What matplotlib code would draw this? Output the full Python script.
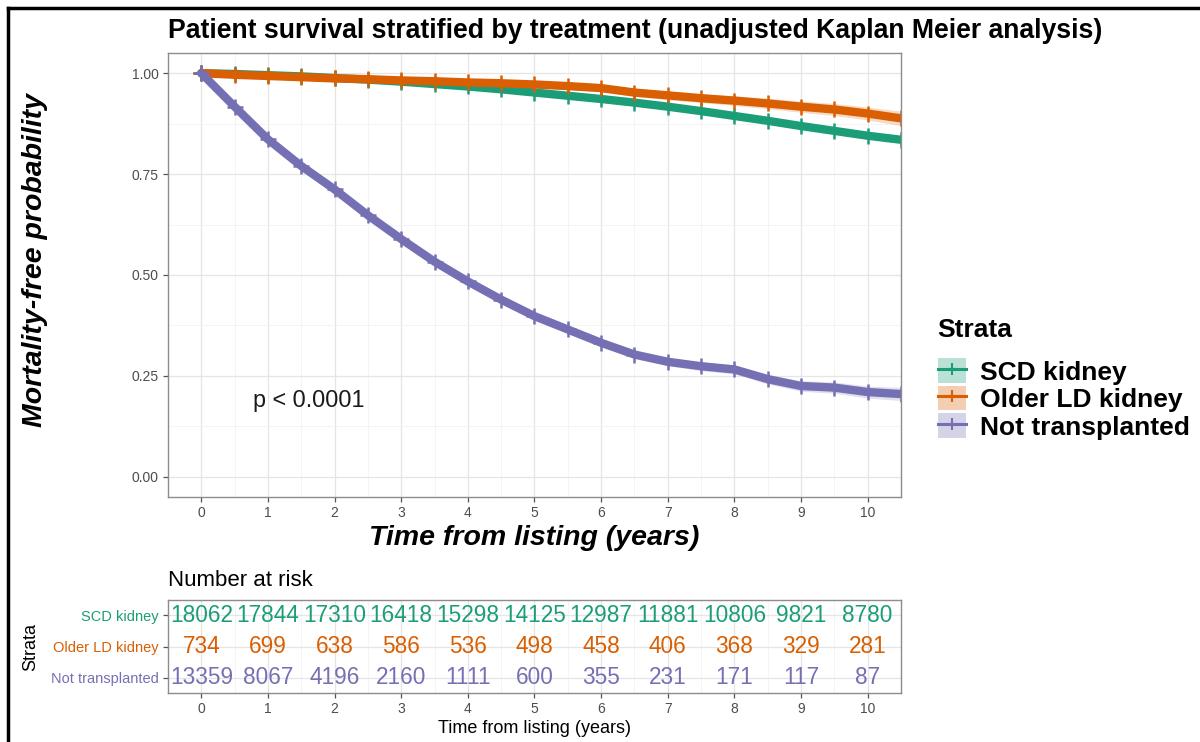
import numpy as np
import matplotlib
matplotlib.use("Agg")
import matplotlib.pyplot as plt
from matplotlib.lines import Line2D
from matplotlib.patches import Patch
from matplotlib.ticker import MultipleLocator

plt.rcParams['font.family'] = ['Liberation Sans', 'DejaVu Sans']

# Survival estimates read at half-year steps
years = [0, 0.5, 1, 1.5, 2, 2.5, 3, 3.5, 4, 4.5, 5, 5.5, 6, 6.5, 7, 7.5, 8, 8.5, 9, 9.5, 10, 10.5]
surv_scd = [1.0, 0.998, 0.995, 0.992, 0.988, 0.984, 0.979, 0.973, 0.967, 0.960, 0.952, 0.944,
            0.936, 0.927, 0.917, 0.906, 0.894, 0.882, 0.869, 0.857, 0.845, 0.835]
surv_old = [1.0, 0.996, 0.993, 0.990, 0.987, 0.985, 0.982, 0.980, 0.977, 0.975, 0.972, 0.968,
            0.963, 0.952, 0.945, 0.938, 0.932, 0.925, 0.917, 0.910, 0.900, 0.888]
surv_not = [1.0, 0.917, 0.836, 0.770, 0.712, 0.648, 0.589, 0.533, 0.484, 0.439, 0.398, 0.365,
            0.332, 0.303, 0.285, 0.274, 0.266, 0.242, 0.225, 0.221, 0.210, 0.205]
# half width of the confidence band
ci_scd = [0, 0.001, 0.001, 0.001, 0.002, 0.002, 0.002, 0.002, 0.003, 0.003, 0.003, 0.003,
          0.003, 0.003, 0.004, 0.004, 0.004, 0.004, 0.004, 0.005, 0.005, 0.005]
ci_old = [0, 0.002, 0.003, 0.004, 0.005, 0.005, 0.006, 0.006, 0.007, 0.007, 0.008, 0.008,
          0.009, 0.010, 0.011, 0.011, 0.012, 0.013, 0.014, 0.015, 0.016, 0.018]
ci_not = [0, 0.003, 0.004, 0.005, 0.005, 0.006, 0.006, 0.007, 0.007, 0.008, 0.008, 0.009,
          0.009, 0.010, 0.010, 0.011, 0.011, 0.012, 0.013, 0.014, 0.015, 0.016]

strata = ['SCD kidney', 'Older LD kidney', 'Not transplanted']
colors = ['#1B9E77', '#D95F02', '#7570B3']

risk_years = [0, 1, 2, 3, 4, 5, 6, 7, 8, 9, 10]
risk_scd = [18062, 17844, 17310, 16418, 15298, 14125, 12987, 11881, 10806, 9821, 8780]
risk_old = [734, 699, 638, 586, 536, 498, 458, 406, 368, 329, 281]
risk_not = [13359, 8067, 4196, 2160, 1111, 600, 355, 231, 171, 117, 87]

grey = '#4D4D4D'

fig = plt.figure(figsize=(12, 7.42), dpi=100)
ax = fig.add_axes([0.14, 0.3302, 0.6108, 0.5984])
ax2 = fig.add_axes([0.14, 0.066, 0.6108, 0.1254])


def style_panel(a):
    a.set_xlim(-0.5, 10.5)
    a.xaxis.set_major_locator(MultipleLocator(1))
    a.xaxis.set_minor_locator(MultipleLocator(0.5))
    a.grid(which='major', color='#E5E5E5', lw=0.9)
    a.grid(which='minor', color='#F2F2F2', lw=0.6)
    a.set_axisbelow(True)
    for s in a.spines.values():
        s.set_color('#8C8C8C')
        s.set_linewidth(1.0)
    a.tick_params(which='major', length=3.5, width=0.9, color='#555555',
                  labelsize=10, labelcolor=grey, pad=3)
    a.tick_params(which='minor', length=0)


# survival curves
curves = [(surv_scd, ci_scd), (surv_old, ci_old), (surv_not, ci_not)]
for (s, ci), name, c in zip(curves, strata, colors):
    s = np.array(s)
    ci = np.array(ci)
    ax.fill_between(years, s - ci, s + ci, color=c, alpha=0.22, lw=0)
    ax.plot(years, s, color=c, lw=6, marker='+', ms=11, mew=1.8,
            solid_capstyle='round', label=name)

style_panel(ax)
ax.set_ylim(-0.05, 1.05)
ax.yaxis.set_major_locator(MultipleLocator(0.25))
ax.yaxis.set_minor_locator(MultipleLocator(0.125))
ax.yaxis.set_major_formatter(matplotlib.ticker.FormatStrFormatter('%.2f'))
ax.text(0.77, 0.19, 'p < 0.0001', fontsize=16.8, ha='left', va='center', color='#1a1a1a')

fig.text(0.14, 0.958, 'Patient survival stratified by treatment (unadjusted Kaplan Meier analysis)',
         fontsize=19.2, fontweight='bold', ha='left', va='center')
fig.text(0.029, 0.6496, 'Mortality-free probability', fontsize=20.5, fontweight='bold',
         fontstyle='italic', rotation=90, ha='center', va='center')
fig.text(0.4454, 0.275, 'Time from listing (years)', fontsize=20.5, fontweight='bold',
         fontstyle='italic', ha='center', va='center')

# legend
fig.text(0.781, 0.5553, 'Strata', fontsize=19, fontweight='bold', ha='left', va='center')
handles = [(Patch(facecolor=c, alpha=0.3, lw=0),
            Line2D([], [], color=c, lw=2.2, marker='+', ms=9, mew=1.5)) for c in colors]
leg = fig.legend(handles, strata, loc='center left', bbox_to_anchor=(0.766, 0.4623),
                 frameon=False, fontsize=19, handlelength=1.06,
                 handleheight=1.05, labelspacing=0.05, handletextpad=0.53, borderpad=0.2)
for t in leg.get_texts():
    t.set_fontweight('bold')

# risk table
rows = [risk_scd, risk_old, risk_not]
row_y = [3, 2, 1]
for r, y, c in zip(rows, row_y, colors):
    for x, n in zip(risk_years, r):
        ax2.text(x, y, str(n), color=c, fontsize=16.3, ha='center', va='center')

style_panel(ax2)
ax2.set_ylim(0.5, 3.5)
ax2.set_yticks(row_y)
ax2.set_yticklabels(strata)
for lab, c in zip(ax2.get_yticklabels(), colors):
    lab.set_color(c)
    lab.set_fontsize(10.5)
ax2.set_xlabel('Time from listing (years)', fontsize=13, labelpad=3)
ax2.set_ylabel('Strata', fontsize=13)
ax2.yaxis.set_label_coords(-0.176, 0.5)
fig.text(0.14, 0.218, 'Number at risk', fontsize=16, ha='left', va='center')

# outer frame
fig.add_artist(Line2D([0.0067, 1.0], [0.989, 0.989], color='black', lw=2.5))
fig.add_artist(Line2D([0.0067, 0.0067], [0.0, 0.989], color='black', lw=2.5))

fig.savefig('out.png', dpi=100)
